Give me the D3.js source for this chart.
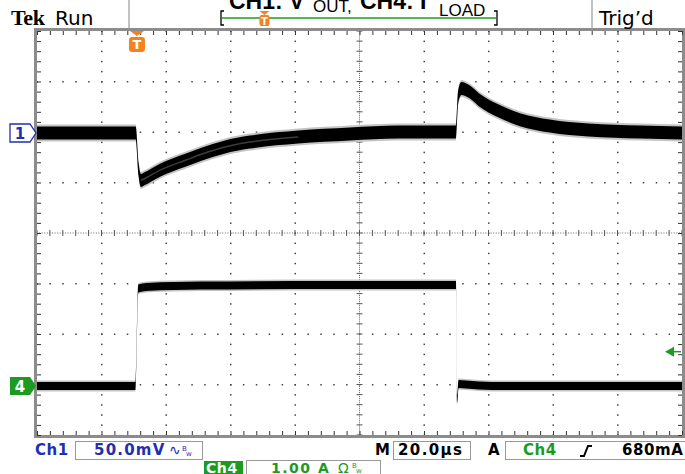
<!DOCTYPE html>
<html>
<head>
<meta charset="utf-8">
<script src="https://cdn.jsdelivr.net/npm/d3@7"></script>
<style>
body{margin:0;background:#fff}
svg{display:block}
</style>
</head>
<body>
<svg id="scope" width="685" height="474"></svg>
<script>
// scope settings
const ch1PerDiv = 50;     // mV/div
const ch4PerDiv = 1.0;    // A/div
const usPerDiv = 20;      // us/div
const trigLevel = 0.68;   // A

// Ch1: Vout deviation (mV) vs time (us), trigger at t = 0
const ch1Time = [-31, -0.4, 0.5, 1.2, 2.5, 7, 15, 20, 27, 35, 50, 66, 81, 98.9, 99.6, 100.6, 103, 106, 112, 119, 128, 140, 156, 169];
const ch1Volt = [0, 0, -36, -47, -45, -37, -27, -21, -14, -9, -4, -1, 1, 1, 36, 44, 41, 33, 22, 13, 7, 3, 1, 0];

// Ch4: load current (A)
const ch4Time = [-31, -0.4, 0.4, 3, 20, 60, 98.9, 99.3, 99.7, 102, 110, 169];
const ch4Amp = [0, 0, 1.93, 1.96, 1.99, 2.0, 2.0, -0.25, 0.04, 0.03, 0, 0];

// readout labels
const titleParts = ["CH1: V", "OUT,", "CH4: I", "LOAD"];
const ch1Label = "50.0mV";
const ch4Label = "1.00 A";
const timeLabel = "20.0\u00b5s";
const trigLabel = "680mA";

const svg = d3.select("#scope");
const L = 37, R = 682, T = 31, B = 435;

// graticule in divisions
const gx = d3.scaleLinear().domain([-5, 5]).range([L, R]);
const gy = d3.scaleLinear().domain([-4, 4]).range([B, T]);

// trace scales (trigger at -3.45 div, ch1 at +1.98 div, ch4 at -3.03 div)
const trigDiv = -3.45, ch1Pos = 1.98, ch4Pos = -3.03;
const x = d3.scaleLinear()
    .domain([(-5 - trigDiv) * usPerDiv, (5 - trigDiv) * usPerDiv])
    .range([L, R]);
const yV = d3.scaleLinear()
    .domain([(-4 - ch1Pos) * ch1PerDiv, (4 - ch1Pos) * ch1PerDiv])
    .range([B, T]);
const yI = d3.scaleLinear()
    .domain([(-4 - ch4Pos) * ch4PerDiv, (4 - ch4Pos) * ch4PerDiv])
    .range([B, T]);

const grid = svg.append("g");

// dotted division lines
const minorX = d3.range(-25, 26).map(i => i / 5);
const minorY = d3.range(-20, 21).map(i => i / 5);
[-4, -3, -2, -1, 1, 2, 3, 4].forEach(k => {
    grid.selectAll(null).data(minorY).enter().append("rect")
        .attr("x", gx(k) - 0.5).attr("y", d => gy(d) - 0.5)
        .attr("width", 1.5).attr("height", 1.5).attr("fill", "#444");
});
[-3, -2, -1, 1, 2, 3].forEach(j => {
    grid.selectAll(null).data(minorX).enter().append("rect")
        .attr("x", d => gx(d) - 0.5).attr("y", gy(j) - 0.5)
        .attr("width", 1.5).attr("height", 1.5).attr("fill", "#444");
});

// centre cross
grid.selectAll(null).data(d3.range(-125, 126).map(i => i / 25)).enter().append("rect")
    .attr("x", d => gx(d) - 0.5).attr("y", gy(0) - 0.5)
    .attr("width", 1).attr("height", 1).attr("fill", "#666");
grid.selectAll(null).data(d3.range(-100, 101).map(i => i / 25)).enter().append("rect")
    .attr("x", gx(0) - 0.5).attr("y", d => gy(d) - 0.5)
    .attr("width", 1).attr("height", 1).attr("fill", "#666");
grid.selectAll(null).data(minorX).enter().append("line")
    .attr("x1", d => gx(d)).attr("x2", d => gx(d))
    .attr("y1", gy(0) - 3).attr("y2", gy(0) + 3)
    .attr("stroke", "#555").attr("stroke-width", 1);
grid.selectAll(null).data(minorY).enter().append("line")
    .attr("y1", d => gy(d)).attr("y2", d => gy(d))
    .attr("x1", gx(0) - 3).attr("x2", gx(0) + 3)
    .attr("stroke", "#555").attr("stroke-width", 1);

// frame
grid.append("rect")
    .attr("x", L - 1.5).attr("y", T - 1.5)
    .attr("width", R - L + 3).attr("height", B - T + 3)
    .attr("fill", "none").attr("stroke", "#8c8c8c").attr("stroke-width", 3);

// frame ticks via axes
const edge = (axis, tr) => {
    const g = grid.append("g").attr("transform", tr)
        .call(axis.tickSize(4).tickFormat(""));
    g.select(".domain").remove();
    g.selectAll(".tick line").attr("stroke", "#333");
};
edge(d3.axisBottom(gx).tickValues(minorX), `translate(0,${T})`);
edge(d3.axisTop(gx).tickValues(minorX), `translate(0,${B})`);
edge(d3.axisRight(gy).tickValues(minorY), `translate(${L},0)`);
edge(d3.axisLeft(gy).tickValues(minorY), `translate(${R},0)`);

// traces
svg.append("clipPath").attr("id", "clip")
    .append("rect").attr("x", L).attr("y", T).attr("width", R - L).attr("height", B - T);
const traces = svg.append("g").attr("clip-path", "url(#clip)");

const ch1 = ch1Time.map((t, i) => ({t, v: ch1Volt[i]}));
const ch4 = ch4Time.map((t, i) => ({t, v: ch4Amp[i]}));

function band(data, y, hw) {
    return d3.area()
        .x(d => x(d.t))
        .y0(d => y(d.v) + hw)
        .y1(d => y(d.v) - hw)
        .curve(d3.curveMonotoneX)(data);
}

traces.append("path").attr("d", band(ch1, yV, 8.5)).attr("fill", "#c4c4c4");
traces.append("path").attr("d", band(ch1, yV, 6.5)).attr("fill", "#000");
traces.append("path")
    .attr("d", d3.line().x(d => x(d.t)).y(d => yV(d.v))
        .defined(d => d.t > 1 && d.t < 60).curve(d3.curveMonotoneX)(ch1))
    .attr("fill", "none").attr("stroke", "#3c3c3c").attr("stroke-width", 1.5);

traces.append("path").attr("d", band(ch4, yI, 5.5)).attr("fill", "#c4c4c4");
traces.append("path").attr("d", band(ch4, yI, 4)).attr("fill", "#000");

// channel markers
const ch1Y = yV(0), ch4Y = yI(0);
const marker = y => `M10,${y - 9}H30L36,${y}L30,${y + 9}H10Z`;
svg.append("path").attr("d", marker(ch1Y))
    .attr("fill", "#fff").attr("stroke", "#1f2fb0").attr("stroke-width", 1.3);
svg.append("text").attr("x", 20).attr("y", ch1Y + 6).attr("text-anchor", "middle")
    .attr("font-family", "DejaVu Sans").attr("font-weight", "bold").attr("font-size", 15)
    .attr("fill", "#1f2fb0").text("1");
svg.append("path").attr("d", marker(ch4Y)).attr("fill", "#1c9a22");
svg.append("text").attr("x", 20).attr("y", ch4Y + 6).attr("text-anchor", "middle")
    .attr("font-family", "DejaVu Sans").attr("font-weight", "bold").attr("font-size", 15)
    .attr("fill", "#fff").text("4");

// trigger level arrow
const ty = yI(trigLevel);
svg.append("path").attr("d", `M665,${ty}L674,${ty - 5}L674,${ty + 5}Z`).attr("fill", "#1c9a22");
svg.append("line").attr("x1", 672).attr("x2", 681).attr("y1", ty).attr("y2", ty)
    .attr("stroke", "#1c9a22").attr("stroke-width", 1.5);

// trigger position marker
const orange = "#f58220";
const tx = x(0);
svg.append("path").attr("d", `M${tx - 7},${T}L${tx + 7},${T}L${tx},${T + 5}Z`).attr("fill", orange);
svg.append("rect").attr("x", tx - 8).attr("y", T + 6).attr("width", 16).attr("height", 15)
    .attr("rx", 3).attr("fill", orange);
svg.append("text").attr("x", tx).attr("y", T + 18).attr("text-anchor", "middle")
    .attr("font-family", "DejaVu Sans").attr("font-weight", "bold").attr("font-size", 13)
    .attr("fill", "#fff").text("T");

// header
svg.append("text").attr("x", 11).attr("y", 25)
    .attr("font-family", "Liberation Serif").attr("font-weight", "bold").attr("font-size", 22)
    .attr("letter-spacing", -0.3).attr("fill", "#000").text("Tek");
svg.append("text").attr("x", 55).attr("y", 25)
    .attr("font-family", "DejaVu Sans").attr("font-size", 20).attr("fill", "#000").text("Run");
svg.append("text").attr("x", 599).attr("y", 25)
    .attr("font-family", "DejaVu Sans").attr("font-size", 20).attr("fill", "#000").text("Trig\u2019d");
[129, 592].forEach(v => svg.append("line").attr("x1", v).attr("x2", v).attr("y1", 0).attr("y2", T - 2)
    .attr("stroke", "#999").attr("stroke-width", 1.2));

// record bar
const hx = d3.scaleLinear().domain(x.domain()).range([222, 496]);
svg.append("line").attr("x1", 222).attr("x2", 496).attr("y1", 18).attr("y2", 18)
    .attr("stroke", "#1c9a22").attr("stroke-width", 1.5);
svg.append("path").attr("d", "M224,11H221V25H224M494,11H497V25H494")
    .attr("fill", "none").attr("stroke", "#000").attr("stroke-width", 1.3);
const hT = hx(0);
svg.append("path").attr("d", `M${hT - 5},11L${hT + 5},11L${hT},15Z`).attr("fill", orange);
svg.append("rect").attr("x", hT - 5).attr("y", 15).attr("width", 10).attr("height", 11)
    .attr("rx", 2).attr("fill", orange);
svg.append("text").attr("x", hT).attr("y", 24.5).attr("text-anchor", "middle")
    .attr("font-family", "DejaVu Sans").attr("font-weight", "bold").attr("font-size", 10)
    .attr("fill", "#fff").text("T");

// title (clipped at top, as on the screen capture)
const tf = "Liberation Sans";
svg.append("text").attr("x", 229).attr("y", 9).attr("font-family", tf).attr("font-weight", "bold")
    .attr("font-size", 23).text(titleParts[0]);
svg.append("text").attr("x", 313).attr("y", 12).attr("font-family", tf)
    .attr("font-size", 17).text(titleParts[1]);
svg.append("text").attr("x", 360).attr("y", 9).attr("font-family", tf).attr("font-weight", "bold")
    .attr("font-size", 23).text(titleParts[2]);
svg.append("text").attr("x", 439).attr("y", 16).attr("font-family", tf)
    .attr("font-size", 17).text(titleParts[3]);

// bottom readouts
const blue = "#1f2fb0", green = "#1c9a22";
const rf = "DejaVu Sans";
const box = (x0, y0, w, h) => svg.append("rect").attr("x", x0).attr("y", y0)
    .attr("width", w).attr("height", h).attr("fill", "none")
    .attr("stroke", "#999").attr("stroke-width", 1);
const txt = (x0, y0, s, c, size, w, ls) => svg.append("text").attr("x", x0).attr("y", y0)
    .attr("font-family", rf).attr("font-size", size || 15).attr("font-weight", w || "bold")
    .attr("letter-spacing", ls || 0).attr("fill", c).text(s);

box(75.5, 441.5, 127, 18);
box(393.5, 441.5, 77, 18);
box(505.5, 441.5, 185, 18);
box(246.5, 460.5, 134, 20);

txt(35, 455, "Ch1", blue, 15, "bold", 0.5);
txt(94, 455, ch1Label, blue, 15, "bold", 1.2);
txt(169, 455, "\u223f", blue, 14, "normal");
txt(182, 451, "B", blue, 7, "normal");
txt(186, 456, "w", blue, 7, "normal");

txt(375, 455, "M", "#000", 15, "bold");
txt(398, 455, timeLabel, "#000", 15, "bold", 1.4);
txt(488, 455, "A", "#000", 15, "bold");
txt(523, 455, "Ch4", green, 15, "bold", 0.5);
svg.append("path").attr("d", "M580,456H584L588,446H592")
    .attr("fill", "none").attr("stroke", "#000").attr("stroke-width", 2);
txt(622, 455, trigLabel, "#000", 15, "bold", 0.6);

svg.append("rect").attr("x", 204).attr("y", 461).attr("width", 39).attr("height", 15).attr("fill", green);
txt(206, 473, "Ch4", "#fff", 14, "bold", 0.6);
txt(271, 473, ch4Label, green, 14, "bold", 1.5);
txt(338, 473, "\u03a9", green, 14, "normal");
txt(352, 468, "B", green, 7, "normal");
txt(356, 473, "w", green, 7, "normal");
</script>
</body>
</html>
